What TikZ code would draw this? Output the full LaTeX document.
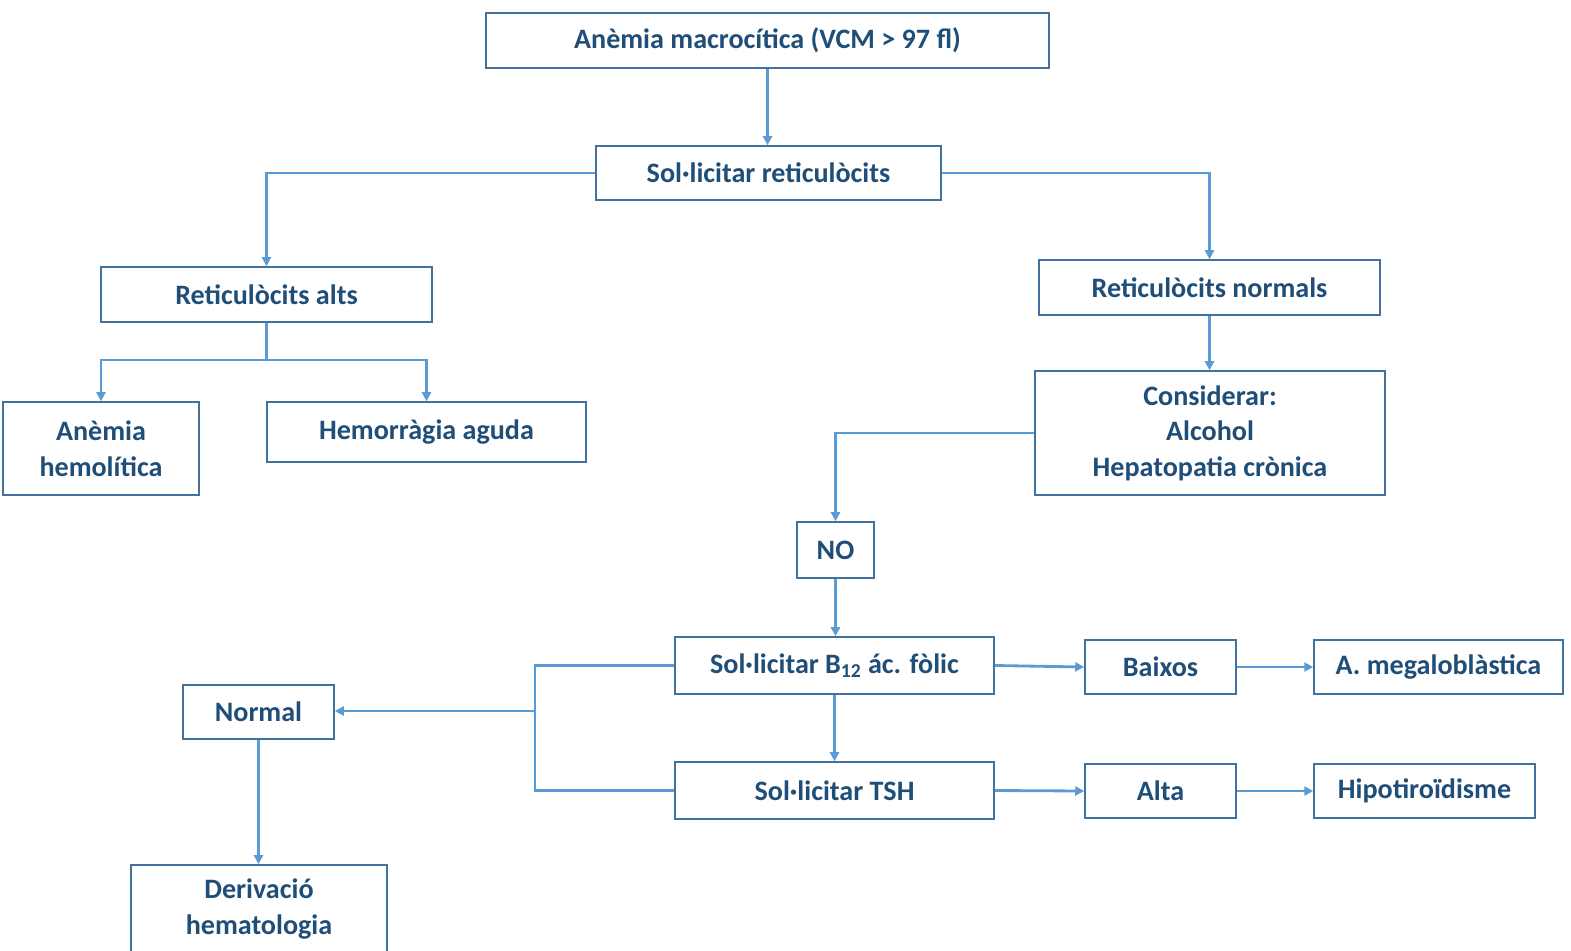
\documentclass[tikz,border=0pt]{standalone}
\usepackage{fontspec}
\setmainfont{Carlito}
\usetikzlibrary{arrows.meta}
\definecolor{txtc}{HTML}{1F4E79}
\definecolor{boxc}{HTML}{41719C}
\definecolor{linec}{HTML}{5B9BD5}
\begin{document}
\begin{tikzpicture}[x=0.02cm, y=-0.02cm,
  box/.style={draw=boxc, line width=0.9pt, fill=white, text=txtc,
    font=\fontsize{16}{20.2}\selectfont\bfseries, align=center, inner sep=0pt},
  wire/.style={draw=linec, line width=1.6pt},
  conn/.style={wire, -{Triangle[length=0.18cm, width=0.18cm]}}]
\useasboundingbox (0,0) rectangle (1571,950);

% boxes
\node[box, minimum width=11.26cm, minimum height=1.10cm] (top) at (767.5,40.5) {Anèmia macrocítica (VCM > 97 fl)};
\node[box, minimum width=6.90cm, minimum height=1.08cm] (sr) at (768.5,173) {Sol·licitar reticulòcits};
\node[box, minimum width=6.62cm, minimum height=1.10cm] (alts) at (266.5,294.5) {Reticulòcits alts};
\node[box, minimum width=6.82cm, minimum height=1.10cm] (norm) at (1209.5,287.5) {Reticulòcits normals};
\node[box, minimum width=3.92cm, minimum height=1.86cm] (hemo) at (101,448.5) {Anèmia\\hemolítica};
\node[box, minimum width=6.38cm, minimum height=1.20cm] (hemr) at (426.5,432) {Hemorràgia aguda};
\node[box, minimum width=7.00cm, minimum height=2.48cm] (cons) at (1210,433) {Considerar:\\Alcohol\\Hepatopatia crònica};
\node[box, minimum width=1.54cm, minimum height=1.12cm] (no) at (835.5,550) {NO};
\node[box, minimum width=6.38cm, minimum height=1.14cm] (b12) at (834.5,665.5) {Sol·licitar B\textsubscript{12} ác. fòlic};
\node[box, minimum width=6.38cm, minimum height=1.14cm] (tsh) at (834.5,790.5) {Sol·licitar TSH};
\node[box, minimum width=3.02cm, minimum height=1.08cm] (baix) at (1160.5,667) {Baixos};
\node[box, minimum width=4.98cm, minimum height=1.08cm] (meg) at (1438.5,667) {A. megaloblàstica};
\node[box, minimum width=3.02cm, minimum height=1.08cm] (alta) at (1160.5,791) {Alta};
\node[box, minimum width=4.42cm, minimum height=1.08cm] (hipo) at (1424.5,791) {Hipotiroïdisme};
\node[box, minimum width=3.02cm, minimum height=1.08cm] (normal) at (258.5,712) {Normal};
\node[box, minimum width=5.12cm, minimum height=1.76cm] (deriv) at (259,909) {Derivació\\hematologia};

% connectors
\draw[conn] (top.south) -- (top.south |- sr.north);
\draw[conn] (sr.west) -| (alts.north);
\draw[conn] (sr.east) -| (norm.north);
\coordinate (j1) at (266.5,360);
\draw[wire] (alts.south) -- (j1);
\draw[conn] (j1) -| (hemo.north);
\draw[conn] (j1) -| (hemr.north);
\draw[conn] (norm.south) -- (norm.south |- cons.north);
\draw[conn] (cons.west) -| (no.north);
\draw[conn] (no.south) -- (no.south |- b12.north);
\draw[conn] (b12.south) -- (tsh.north);
\draw[conn] (b12.east) -- (baix.west);
\draw[conn] (baix.east) -- (meg.west);
\draw[conn] (tsh.east) -- (alta.west);
\draw[conn] (alta.east) -- (hipo.west);
\coordinate (j2) at (535,711);
\draw[wire] (b12.west) -| (j2) |- (tsh.west);
\draw[conn] (j2) -- (j2 -| normal.east);
\draw[conn] (normal.south) -- (normal.south |- deriv.north);
\end{tikzpicture}
\end{document}
